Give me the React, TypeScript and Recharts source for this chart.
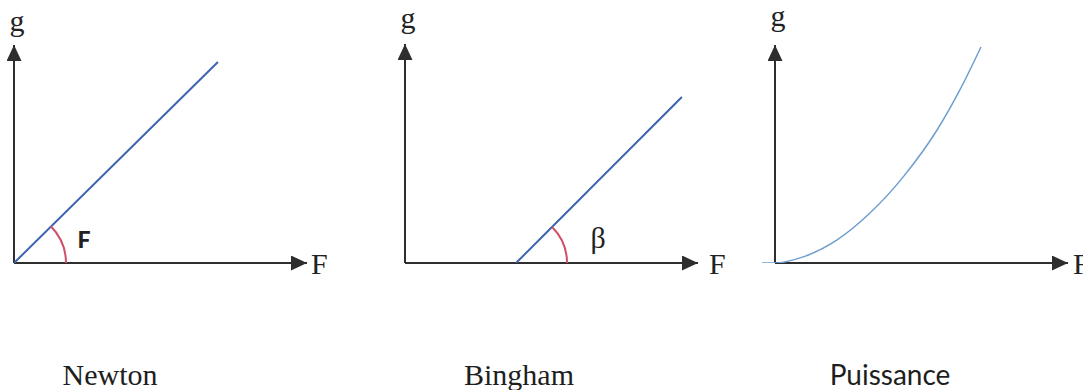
import { LineChart, Line, XAxis, YAxis, ReferenceLine, ReferenceDot, Label } from 'recharts'

// values, in axis units (0..100 along each arrow)
const newtonF = [0, 69.6]
const newtonG = [0, 92.2]
const binghamF = [37.9, 94.5]
const binghamG = [0, 75.8]
const puissanceF = [-4.4, 0, 9.6, 21.2, 32.4, 43.7, 55.3, 63.1, 70.3]
const puissanceG = [0, 0, 2.8, 10.6, 22.9, 39.4, 61.0, 79.4, 99.1]
const titles = ['Newton', 'Bingham', 'Puissance']
const xName = 'F'
const yName = 'g'
const angleNames = ['F', 'β']

const toRows = (f: number[], g: number[]) => f.map((v, i) => ({ F: v, g: g[i] }))

const AXIS = '#2e2e2e'
const SERIF = 'Liberation Serif'

const arcShape = (r: number) => (props: any) => {
  const { cx, cy } = props
  const a = Math.PI / 4
  return (
    <path
      d={`M${cx + r},${cy} A${r},${r} 0 0 0 ${cx + r * Math.cos(a)},${cy - r * Math.sin(a)}`}
      fill="none"
      stroke="#cf4f68"
      strokeWidth={2}
    />
  )
}

const textShape = (text: string, style: any) => (props: any) => (
  <text x={props.cx} y={props.cy} textAnchor="middle" {...style}>
    {text}
  </text>
)

type PanelProps = {
  id: string
  left: number
  width: number
  margin: { top: number; right: number; bottom: number; left: number }
  xDomain: [number, number]
  rows: { F: number; g: number }[]
  stroke: string
  strokeWidth: number
  curve: 'linear' | 'monotone'
  arc?: { x: number; r: number }
  angle?: { text: string; x: number; y: number; style: any }
  xLabelOffset: number
  yLabelOffset: number
}

function Panel(p: PanelProps) {
  return (
    <div style={{ position: 'absolute', left: p.left, top: 0 }}>
      <LineChart width={p.width} height={300} data={p.rows} margin={p.margin}>
        <defs>
          <marker
            id={`arrow-${p.id}`}
            viewBox="0 0 16 15"
            refX={16}
            refY={7.5}
            markerWidth={16}
            markerHeight={15}
            markerUnits="userSpaceOnUse"
            orient="auto"
          >
            <path d="M0,0 L16,7.5 L0,15 z" fill={AXIS} />
          </marker>
        </defs>
        <XAxis type="number" dataKey="F" domain={p.xDomain} allowDataOverflow hide />
        <YAxis type="number" domain={[0, 100]} allowDataOverflow hide />
        <ReferenceLine
          segment={[{ x: 0, y: 0 }, { x: 100, y: 0 }]}
          stroke={AXIS}
          strokeWidth={2}
          markerEnd={`url(#arrow-${p.id})`}
          ifOverflow="visible"
        >
          <Label value={xName} position="right" offset={p.xLabelOffset} fontSize={30} fontFamily={SERIF} fill="#222" />
        </ReferenceLine>
        <ReferenceLine
          segment={[{ x: 0, y: 0 }, { x: 0, y: 100 }]}
          stroke={AXIS}
          strokeWidth={2}
          markerEnd={`url(#arrow-${p.id})`}
          ifOverflow="visible"
        >
          <Label value={yName} position="top" offset={p.yLabelOffset} dx={3} fontSize={30} fontFamily={SERIF} fill="#222" />
        </ReferenceLine>
        <Line
          type={p.curve}
          dataKey="g"
          stroke={p.stroke}
          strokeWidth={p.strokeWidth}
          dot={false}
          activeDot={false}
          isAnimationActive={false}
        />
        {p.arc && (
          <ReferenceDot x={p.arc.x} y={0} r={0} ifOverflow="visible" shape={arcShape(p.arc.r)} />
        )}
        {p.angle && (
          <ReferenceDot
            x={p.angle.x}
            y={p.angle.y}
            r={0}
            ifOverflow="visible"
            shape={textShape(p.angle.text, p.angle.style)}
          />
        )}
      </LineChart>
    </div>
  )
}

const titleStyle = (center: number, font: string, size: number, top: number): any => ({
  position: 'absolute',
  left: center - 150,
  width: 300,
  top,
  textAlign: 'center',
  fontFamily: font,
  fontSize: size,
  lineHeight: `${size}px`,
  color: '#1e1e1e',
})

export default function App() {
  return (
    <div
      style={{
        position: 'absolute',
        left: 0,
        top: 0,
        width: 1083,
        height: 390,
        background: '#fff',
        overflow: 'hidden',
      }}
    >
      <Panel
        id="newton"
        left={0}
        width={360}
        margin={{ top: 45, right: 53, bottom: 37, left: 14 }}
        xDomain={[0, 100]}
        rows={toRows(newtonF, newtonG)}
        stroke="#3d64b0"
        strokeWidth={2}
        curve="linear"
        arc={{ x: 0, r: 52 }}
        angle={{
          text: angleNames[0],
          x: 23.9,
          y: 6.9,
          style: { fontFamily: 'Lato', fontWeight: 900, fontSize: 23, fill: '#222' },
        }}
        xLabelOffset={4}
        yLabelOffset={14}
      />
      <Panel
        id="bingham"
        left={360}
        width={385}
        margin={{ top: 44, right: 47, bottom: 37, left: 45 }}
        xDomain={[0, 100]}
        rows={toRows(binghamF, binghamG)}
        stroke="#3d64b0"
        strokeWidth={2}
        curve="linear"
        arc={{ x: 37.9, r: 51 }}
        angle={{
          text: angleNames[1],
          x: 65.9,
          y: 6.8,
          style: { fontFamily: SERIF, fontSize: 30, fill: '#222' },
        }}
        xLabelOffset={11}
        yLabelOffset={16}
      />
      <Panel
        id="puissance"
        left={720}
        width={363}
        margin={{ top: 45, right: 15, bottom: 37, left: 40.35 }}
        xDomain={[-5, 100]}
        rows={toRows(puissanceF, puissanceG)}
        stroke="#6f9fd0"
        strokeWidth={1.5}
        curve="monotone"
        xLabelOffset={5}
        yLabelOffset={19}
      />
      <div style={titleStyle(110, SERIF, 30, 360)}>{titles[0]}</div>
      <div style={titleStyle(519, SERIF, 30, 360)}>{titles[1]}</div>
      <div style={titleStyle(890, 'Lato', 28, 360)}>{titles[2]}</div>
    </div>
  )
}
